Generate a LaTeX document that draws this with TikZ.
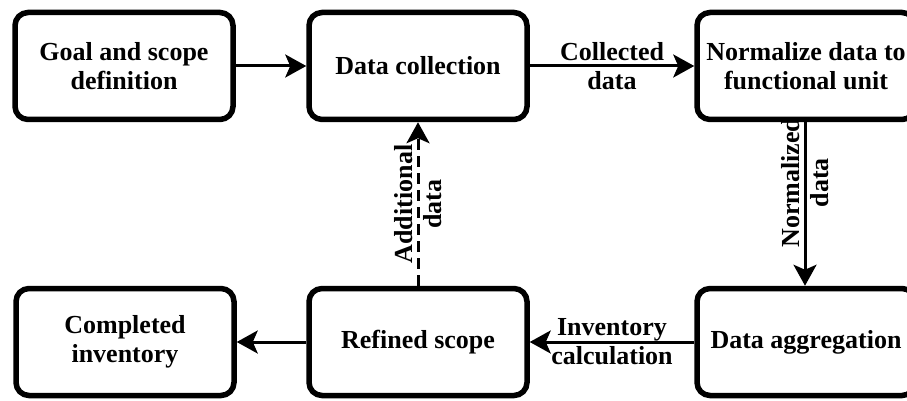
\documentclass[tikz,border=0pt]{standalone}
\usepackage{fontspec}
\setmainfont{Liberation Serif}
\usetikzlibrary{arrows.meta}
\begin{document}
\begin{tikzpicture}[x=1pt,y=-1pt,
  block/.style={draw, rounded corners=13pt, line width=5.5pt, minimum width=218pt, minimum height=107pt, align=center, font=\fontsize{26}{29}\selectfont\bfseries},
  flow/.style={line width=3pt, -{Stealth[length=21pt,width=23pt,inset=5pt]}},
  lbl/.style={align=center, font=\fontsize{26}{29}\selectfont\bfseries}]
	\useasboundingbox (0,0) rectangle (907,401);
	\node[block] (goal) at (124,66) {Goal and scope\\definition};
	\node[block] (collect) at (418,66) {Data collection};
	\node[block] (normalize) at (806,66) {Normalize data to\\functional unit};
	\node[block] (aggregate) at (806,342) {Data aggregation};
	\node[block] (refined) at (418,342) {Refined scope};
	\node[block] (completed) at (125,342) {Completed\\inventory};
\draw[flow] (goal) -- (collect);
\draw[flow] (collect) -- (normalize) node[lbl, midway] {Collected\\data};
\draw[flow] (normalize.south -| aggregate.north) ++(-1,0) coordinate (n1) (n1) -- (n1 |- aggregate.north) node[lbl, pos=0.37, rotate=90] {Normalized\\data};
\draw[flow] (aggregate) -- (refined) node[lbl, midway] {Inventory\\calculation};
\draw[flow] (refined) -- (completed);
\draw[flow, dash pattern=on 11pt off 6pt] (refined) -- (collect) node[lbl, midway, rotate=90] {Additional\\data};
\end{tikzpicture}
\end{document}
